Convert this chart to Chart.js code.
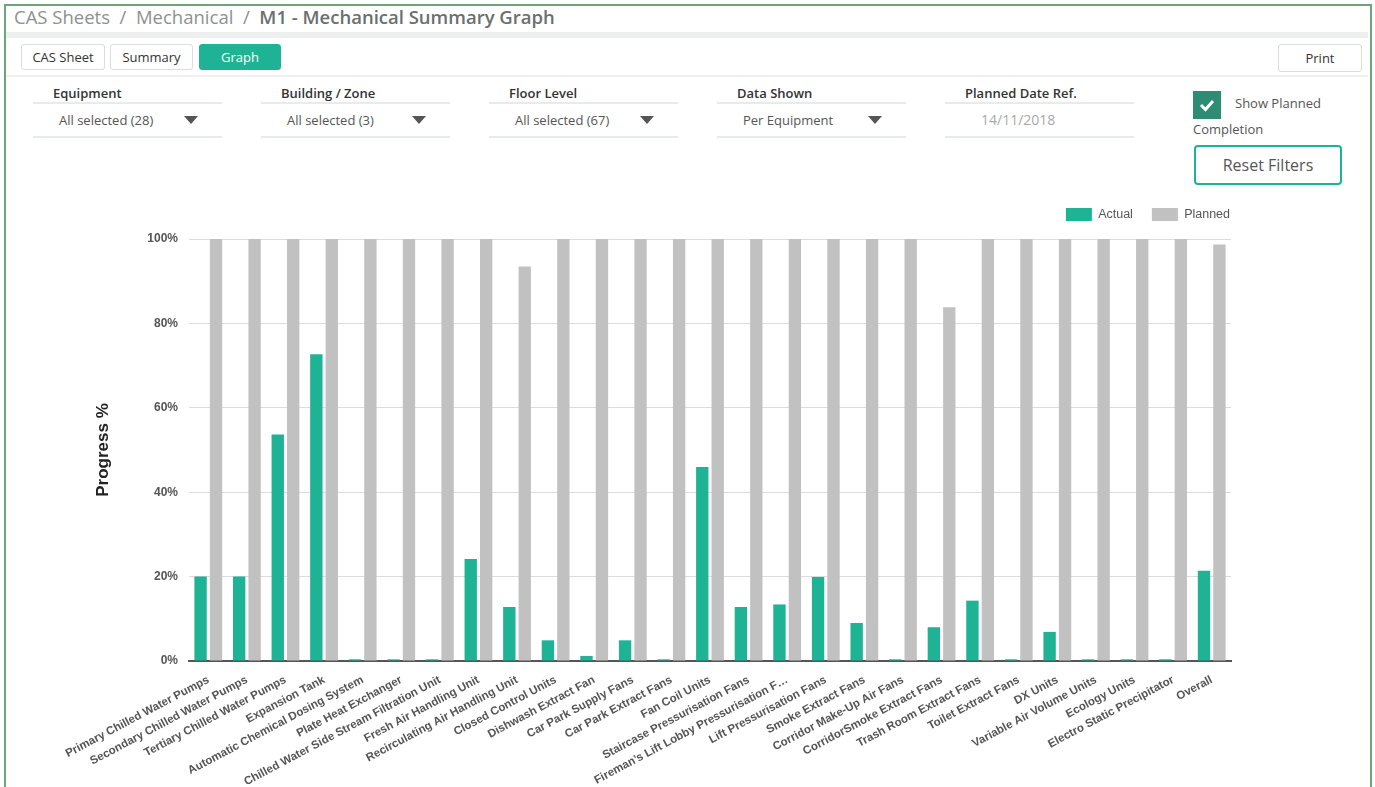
<!DOCTYPE html>
<html>
<head>
<meta charset="utf-8">
<script src="https://cdn.jsdelivr.net/npm/chart.js@4/dist/chart.umd.min.js"></script>
<style>
  html, body { margin: 0; padding: 0; width: 1375px; height: 787px; overflow: hidden; background: #fff; font-family: "Open Sans", sans-serif; }
  .frame { position: absolute; left: 4px; top: 4px; width: 1364px; height: 800px; border: 2px solid #6aa57c; border-bottom: none; }
  .abs { position: absolute; }
  .crumb { left: 14px; top: 4px; font-size: 18.5px; color: #8c9191; white-space: nowrap; }
  .crumb b { color: #6a6f6f; font-weight: 600; }
  .band { left: 6px; width: 1362px; background: #eef0f0; }
  .btn { height: 26px; line-height: 25px; border: 1px solid #dcdcdc; border-radius: 3px; font-size: 13px; color: #333; text-align: center; box-sizing: border-box; }
  .btn.on { background: #1db394; border-color: #1db394; color: #fff; }
  .flabel { font-size: 13px; font-weight: 600; color: #333; }
  .fline { height: 2px; background: #e8ebeb; width: 189px; }
  .fval { font-size: 13px; color: #555; }
  .tri { width: 0; height: 0; border-left: 7px solid transparent; border-right: 7px solid transparent; border-top: 8px solid #555; }
  .chk { left: 1193px; top: 91px; width: 28px; height: 28px; background: #2e8b74; }
  .reset { left: 1194px; top: 145px; width: 148px; height: 40px; border: 2px solid #1db394; border-radius: 4px; box-sizing: border-box; font-size: 16px; color: #555; text-align: center; line-height: 36px; }
  #wrap { position: absolute; left: 40px; top: 189px; width: 1209px; height: 609px; }
</style>
</head>
<body>
<div class="frame"></div>
<div class="abs crumb">CAS Sheets &nbsp;/&nbsp; Mechanical &nbsp;/&nbsp; <b>M1 - Mechanical Summary Graph</b></div>
<div class="abs band" style="top:32px;height:6px;"></div>
<div class="abs btn" style="left:21px;top:44px;width:84px;">CAS Sheet</div>
<div class="abs btn" style="left:110px;top:44px;width:83px;">Summary</div>
<div class="abs btn on" style="left:199px;top:44px;width:82px;">Graph</div>
<div class="abs btn" style="left:1278px;top:44px;width:84px;height:28px;line-height:27px;">Print</div>
<div class="abs band" style="top:75px;height:2px;"></div>

<div id="filters"></div>

<div class="abs chk">
  <svg width="28" height="28"><path d="M8 14 L12.5 18.5 L20 10" stroke="#fff" stroke-width="3" fill="none"/></svg>
</div>
<div class="abs fval" style="left:1235px;top:94px;">Show Planned</div>
<div class="abs fval" style="left:1193px;top:120px;">Completion</div>
<div class="abs reset">Reset Filters</div>

<div id="wrap"><canvas id="chart"></canvas></div>

<script>
  const equipment = [
    'Primary Chilled Water Pumps', 'Secondary Chilled Water Pumps', 'Tertiary Chilled Water Pumps',
    'Expansion Tank', 'Automatic Chemical Dosing System', 'Plate Heat Exchanger',
    'Chilled Water Side Stream Filtration Unit', 'Fresh Air Handling Unit', 'Recirculating Air Handling Unit',
    'Closed Control Units', 'Dishwash Extract Fan', 'Car Park Supply Fans', 'Car Park Extract Fans',
    'Fan Coil Units', 'Staircase Pressurisation Fans', 'Fireman\u2019s Lift Lobby Pressurisation F\u2026',
    'Lift Pressurisation Fans', 'Smoke Extract Fans', 'Corridor Make-Up Air Fans',
    'CorridorSmoke Extract Fans', 'Trash Room Extract Fans', 'Toilet Extract Fans', 'DX Units',
    'Variable Air Volume Units', 'Ecology Units', 'Electro Static Precipitator', 'Overall'
  ];
  const actual = [20, 20, 53.7, 72.7, 0.4, 0.4, 0.4, 24.2, 12.8, 4.9, 1.2, 4.9, 0.4, 46, 12.8, 13.4,
    19.9, 9, 0.4, 8, 14.3, 0.4, 6.9, 0.4, 0.4, 0.4, 21.4];
  const planned = [100, 100, 100, 100, 100, 100, 100, 100, 93.5, 100, 100, 100, 100, 100, 100, 100,
    100, 100, 100, 83.8, 100, 100, 100, 100, 100, 100, 98.7];

  // filter row
  const filterLabels = ['Equipment', 'Building / Zone', 'Floor Level', 'Data Shown', 'Planned Date Ref.'];
  const filterValues = ['All selected (28)', 'All selected (3)', 'All selected (67)', 'Per Equipment', '14/11/2018'];

  let html = '';
  filterLabels.forEach((lab, i) => {
    const x = 33 + i * 228;
    html += `<div class="abs flabel" style="left:${x + 20}px;top:84px;">${lab}</div>`;
    html += `<div class="abs fline" style="left:${x}px;top:102px;"></div>`;
    html += `<div class="abs fline" style="left:${x}px;top:136px;"></div>`;
    if (i < 4) {
      html += `<div class="abs fval" style="left:${x + 26}px;top:111px;">${filterValues[i]}</div>`;
      html += `<div class="abs tri" style="left:${x + 151}px;top:116px;"></div>`;
    } else {
      html += `<div class="abs fval" style="left:${x + 36}px;top:110px;font-size:14px;color:#a9a9a9;">${filterValues[i]}</div>`;
    }
  });
  document.getElementById('filters').innerHTML = html;

  // a bit more room under the legend
  const legendGap = {
    id: 'legendGap',
    beforeInit(chart) {
      const fit = chart.legend.fit;
      chart.legend.fit = function () {
        fit.bind(chart.legend)();
        this.height += 8;
      };
    },
  };

  const ctx = document.getElementById('chart').getContext('2d');
  new Chart(ctx, {
    type: 'bar',
    data: {
      labels: equipment,
      datasets: [
        {
          label: 'Actual',
          data: actual,
          backgroundColor: '#1db394',
          borderWidth: 0,
          barPercentage: 0.8,
        },
        {
          label: 'Planned',
          data: planned,
          backgroundColor: '#c1c1c1',
          borderWidth: 0,
          barPercentage: 0.8,
        },
      ],
    },
    options: {
      responsive: true,
      maintainAspectRatio: false,
      animation: false,
      layout: { padding: 0 },
      plugins: {
        tooltip: { enabled: false },
        legend: {
          position: 'top',
          align: 'end',
          labels: {
            boxWidth: 26,
            boxHeight: 13,
            color: '#555',
            font: { family: 'Liberation Sans, Arial', size: 12.5 },
            padding: 19,
          },
        },
      },
      scales: {
        x: {
          grid: { display: false },
          border: { color: '#555', width: 2 },
          ticks: {
            autoSkip: false,
            minRotation: 28,
            maxRotation: 28,
            color: '#555',
            padding: 4,
            font: { family: 'Liberation Sans, Arial', size: 11.5, weight: 'bold' },
          },
          afterFit: (scale) => {
            scale.height = 137;
            scale.paddingLeft = 0;
            scale.paddingRight = 18;
          },
        },
        y: {
          min: 0,
          max: 100,
          grid: { color: '#dcdcdc', drawTicks: false },
          border: { display: false },
          ticks: {
            stepSize: 20,
            padding: 11,
            color: '#555',
            font: { family: 'Liberation Sans, Arial', size: 12, weight: 'bold' },
            callback: (v) => v + '%',
          },
          title: {
            display: true,
            text: 'Progress %',
            color: '#222',
            padding: { top: 53, bottom: 0 },
            font: { family: 'Liberation Sans, Arial', size: 17, weight: 'bold' },
          },
          afterFit: (scale) => { scale.width = 149; },
        },
      },
    },
    plugins: [legendGap],
  });
</script>
</body>
</html>
